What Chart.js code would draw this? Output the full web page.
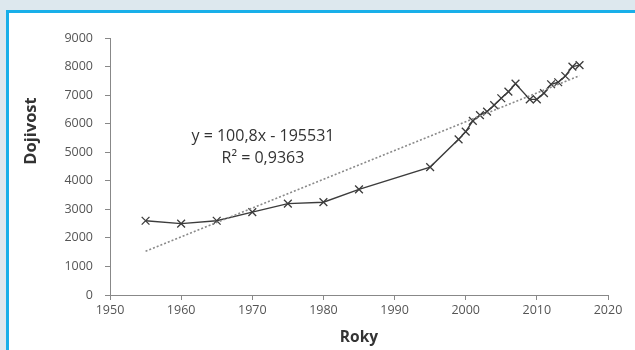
<!DOCTYPE html>
<html>
<head>
<meta charset="utf-8">
<script src="https://cdn.jsdelivr.net/npm/chart.js@4/dist/chart.umd.min.js"></script>
<style>
  html, body { margin: 0; padding: 0; width: 635px; height: 350px; overflow: hidden; background: #dde8ee; }
  #panel { position: absolute; left: 6px; top: 10px; width: 640px; height: 350px; background: #fff;
           border-left: 3px solid #18afe9; border-top: 3px solid #18afe9; }
  #wrap { position: absolute; left: 0; top: 0; width: 635px; height: 350px; }
</style>
</head>
<body>
<div id="panel"></div>
<div id="wrap"><canvas id="c" width="635" height="350"></canvas></div>
<script>
const years = [1955, 1960, 1965, 1970, 1975, 1980, 1985, 1995, 1999, 2000, 2001, 2002, 2003, 2004, 2005, 2006, 2007, 2009, 2010, 2011, 2012, 2013, 2014, 2015, 2016];
const yields = [2600, 2500, 2600, 2900, 3200, 3250, 3700, 4480, 5450, 5720, 6100, 6300, 6420, 6650, 6890, 7120, 7400, 6850, 6850, 7070, 7380, 7450, 7670, 8000, 8050];
const trendYears = [1955, 2016];
const trendValues = [1533, 7682];
const xTicks = [1950, 1960, 1970, 1980, 1990, 2000, 2010, 2020];
const yTicks = [0, 1000, 2000, 3000, 4000, 5000, 6000, 7000, 8000, 9000];
const equationLines = ["y = 100,8x - 195531", "R\u00B2 = 0,9363"];
const yTitle = "Dojivost";
const xTitle = "Roky";

const dataPts = years.map((x, i) => ({ x, y: yields[i] }));
const trendPts = trendYears.map((x, i) => ({ x, y: trendValues[i] }));

const textPlugin = {
  id: 'texts',
  afterDraw(chart) {
    const ctx = chart.ctx;
    const xs = chart.scales.x, ys = chart.scales.y;
    ctx.save();
    ctx.fillStyle = '#333';
    ctx.font = '16px "Open Sans"';
    ctx.textAlign = 'center';
    ctx.textBaseline = 'middle';
    const cx = xs.getPixelForValue(1971.5);
    ctx.fillText(equationLines[0], cx, ys.getPixelForValue(5550));
    ctx.fillText(equationLines[1], cx, ys.getPixelForValue(4780));
    ctx.font = 'bold 16.5px "Open Sans"';
    ctx.translate(31, 131);
    ctx.rotate(-Math.PI / 2);
    ctx.fillText(yTitle, 0, 0);
    ctx.restore();
  }
};

new Chart(document.getElementById('c'), {
  type: 'scatter',
  data: {
    datasets: [
      {
        data: trendPts,
        showLine: true,
        borderColor: '#8a8a8a',
        borderWidth: 1.6,
        borderDash: [2, 2],
        pointRadius: 0,
        fill: false
      },
      {
        data: dataPts,
        showLine: true,
        borderColor: '#3c3c3c',
        borderWidth: 1.4,
        pointStyle: 'crossRot',
        pointRadius: 5.5,
        pointBorderWidth: 1.3,
        pointBorderColor: '#3c3c3c',
        pointBackgroundColor: '#3c3c3c',
        fill: false,
        tension: 0
      }
    ]
  },
  options: {
    responsive: false,
    animation: false,
    devicePixelRatio: 1,
    layout: { padding: { top: 38, right: 27, bottom: 0, left: 0 } },
    plugins: { legend: { display: false }, tooltip: { enabled: false } },
    scales: {
      x: {
        type: 'linear',
        min: 1950, max: 2020,
        afterBuildTicks(scale) { scale.ticks = xTicks.map(v => ({ value: v })); },
        afterFit(scale) { scale.height = 55; },
        ticks: { color: '#555', font: { family: 'Open Sans', size: 12.5 }, padding: 3, maxRotation: 0, callback: v => String(v) },
        grid: { drawOnChartArea: false, drawTicks: true, tickLength: 5, color: '#888' },
        border: { color: '#888', width: 1 },
        title: { display: true, text: xTitle, color: '#333', font: { family: 'Open Sans', size: 15.5, weight: 'bold' }, padding: { top: 0, bottom: 3 } }
      },
      y: {
        type: 'linear',
        min: 0, max: 9000,
        afterBuildTicks(scale) { scale.ticks = yTicks.map(v => ({ value: v })); },
        afterFit(scale) { scale.width = 110; },
        ticks: { color: '#555', font: { family: 'Open Sans', size: 12.5 }, padding: 12, callback: v => String(v) },
        grid: { drawOnChartArea: false, drawTicks: true, tickLength: 5, color: '#888' },
        border: { color: '#888', width: 1 }
      }
    }
  },
  plugins: [textPlugin]
});
</script>
</body>
</html>
